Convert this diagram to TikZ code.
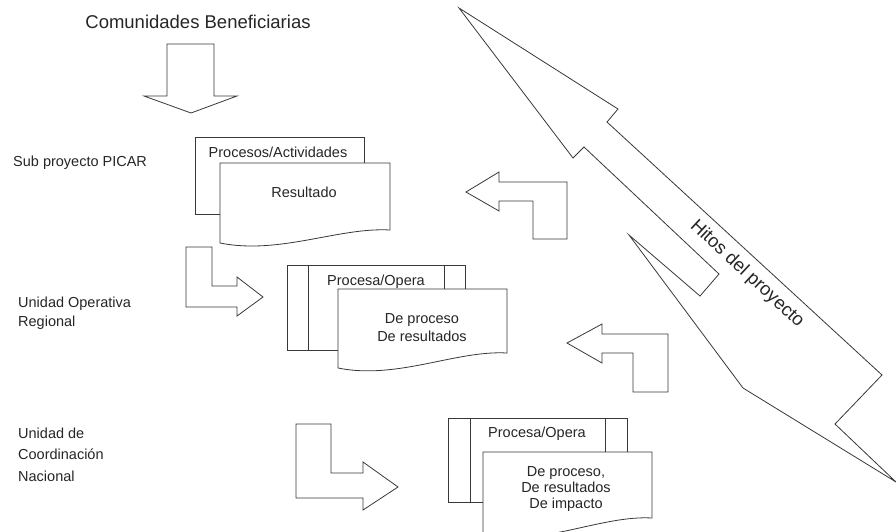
\documentclass[tikz,border=0pt]{standalone}
\usepackage{fontspec}
\setmainfont{Liberation Sans}
\newcommand\docpath[5]{% x1 y1 x2 yR yL
  (#1,#2) -- (#3,#2) -- (#3,#4) .. controls ({#3-0.3*(#3-#1)},{#4-3}) and ({#1+0.35*(#3-#1)},{#5+12}) .. (#1,#5) -- cycle}
\begin{document}
\begin{tikzpicture}[x=1pt,y=-1pt,
  ln/.style={draw=black!78,line width=0.8pt,line join=miter,fill=white},
  body/.style={font=\fontsize{14.5}{18}\selectfont,inner sep=0pt,text=black!85},
  lbl/.style={body,anchor=west,align=left},
  big/.style={font=\fontsize{18.5}{22}\selectfont,inner sep=0pt,text=black!85}]
\useasboundingbox (0,0) rectangle (896,531);
\clip (0,0) rectangle (896,531);

% title and down arrow
\node[big] (title) at (198,22) {Comunidades Beneficiarias};
\draw[ln] (167,44) -- (214,44) -- (214,96) -- (237,96) -- (191,113) -- (144,96) -- (167,96) -- cycle;

% left labels
\node[lbl] (l1) at (13,163) {Sub proyecto PICAR};
\node[lbl,font=\fontsize{14.5}{19}\selectfont] (l2) at (18,313.5) {Unidad Operativa\\Regional};
\node[lbl,font=\fontsize{14.5}{21.5}\selectfont] (l3) at (18,454.5) {Unidad de\\Coordinación\\Nacional};

% box 1
\draw[ln] (195,137) rectangle (364,214);
\node[body] (p1) at (278,152) {Procesos/Actividades};
\draw[ln] \docpath{220}{163}{390}{230}{243};
\node[body] (r1) at (304,192) {Resultado};

% box 2
\draw[ln] (287,265) rectangle (465,350);
\draw[ln] (308,265) -- (308,350) (444,265) -- (444,350);
\node[body] (p2) at (376,282) {Procesa/Opera};
\draw[ln] \docpath{338}{289}{507}{353}{368};
\node[body,align=center] (r2) at (422,328) {De proceso\\De resultados};

% box 3
\draw[ln] (448,418) rectangle (627,502);
\draw[ln] (470,418) -- (470,502) (605,418) -- (605,502);
\node[body] (p3) at (537,434) {Procesa/Opera};
\draw[ln] \docpath{483}{452}{652}{518}{535};
\node[body] (r3a) at (566,473) {De proceso,};
\node[body] (r3b) at (566,487) {De resultados};
\node[body] (r3c) at (566,505) {De impacto};

% L-shaped arrows
\draw[ln] (186,247) -- (212,247) -- (212,286) -- (237,286) -- (237,277) -- (263,297) -- (237,316) -- (237,307) -- (186,307) -- cycle;
\draw[ln] (296,424) -- (331,424) -- (331,473) -- (363,473) -- (363,462) -- (398,487) -- (363,510) -- (363,498) -- (296,498) -- cycle;
\draw[ln] (466,192) -- (499,172) -- (499,182) -- (567,182) -- (567,239) -- (533,239) -- (533,201) -- (499,201) -- (499,211) -- cycle;
\draw[ln] (567,343) -- (602,324) -- (602,334) -- (668,334) -- (668,392) -- (633,392) -- (633,353) -- (602,353) -- (602,363) -- cycle;

% big milestones arrow
\draw[ln] (459,8) -- (618,109) -- (607,122) -- (882,375) -- (835,424) -- (896,482) -- (743,388) -- (629,235) -- (700,296) -- (719,274) -- (584,147) -- (573,158) -- cycle;
\node[big,rotate=-43] (hitos) at (747,274) {Hitos del proyecto};
\end{tikzpicture}
\end{document}
